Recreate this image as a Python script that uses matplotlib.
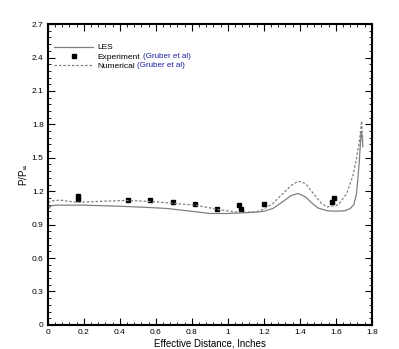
import numpy as np
import matplotlib as mpl
mpl.use('Agg')
import matplotlib.pyplot as plt
from matplotlib.ticker import MultipleLocator

mpl.rcParams['font.family'] = ['Liberation Sans', 'DejaVu Sans']
mpl.rcParams['font.size'] = 6

# LES (solid)
les_x = [0.0, 0.02, 0.05, 0.2, 0.4, 0.55, 0.66, 0.8, 0.9, 1.0, 1.14, 1.2, 1.25, 1.3, 1.35, 1.39,
         1.43, 1.47, 1.5, 1.55, 1.6, 1.65, 1.68, 1.70, 1.715, 1.73, 1.74, 1.745, 1.75]
les_y = [1.04, 1.07, 1.075, 1.075, 1.065, 1.055, 1.045, 1.02, 1.0, 1.0, 1.01, 1.02, 1.045, 1.1, 1.16, 1.18,
         1.15, 1.09, 1.05, 1.025, 1.02, 1.025, 1.045, 1.08, 1.18, 1.46, 1.73, 1.70, 1.60]

# Numerical, Gruber et al (dashed)
num_x = [0.0, 0.03, 0.067, 0.165, 0.3, 0.446, 0.6, 0.7, 0.817, 0.9, 0.97, 1.06, 1.16, 1.2, 1.25, 1.3,
         1.35, 1.39, 1.43, 1.49, 1.52, 1.55, 1.6, 1.62, 1.66, 1.695, 1.715, 1.73, 1.743, 1.75]
num_y = [1.10, 1.115, 1.12, 1.10, 1.11, 1.117, 1.105, 1.09, 1.075, 1.05, 1.03, 1.01, 1.015, 1.04, 1.09, 1.17,
         1.25, 1.29, 1.27, 1.15, 1.09, 1.06, 1.07, 1.09, 1.18, 1.34, 1.5, 1.64, 1.83, 1.65]

# Experiment, Gruber et al
exp_x = [0.165, 0.165, 0.446, 0.57, 0.694, 0.817, 0.937, 1.063, 1.072, 1.198, 1.58, 1.59]
exp_y = [1.16, 1.13, 1.12, 1.117, 1.10, 1.085, 1.043, 1.08, 1.043, 1.085, 1.107, 1.137]

fig = plt.figure(figsize=(3.99, 3.49), dpi=100)
ax = fig.add_axes([0.120, 0.069, 0.812, 0.862])

ax.plot(les_x, les_y, color='#808080', lw=0.9, label='LES')
ax.plot(exp_x, exp_y, 's', color='black', ms=3.5, linestyle='none', label='Experiment')
ax.plot(num_x, num_y, color='#808080', lw=0.9, linestyle=(0, (2, 1.5)), label='Numerical')

ax.set_xlim(0, 1.8)
ax.set_ylim(0, 2.7)
ax.xaxis.set_major_locator(MultipleLocator(0.2))
ax.xaxis.set_minor_locator(MultipleLocator(0.04))
ax.yaxis.set_major_locator(MultipleLocator(0.3))
ax.yaxis.set_minor_locator(MultipleLocator(0.06))
fmt = mpl.ticker.FuncFormatter(lambda v, p: '%g' % round(v, 2))
ax.xaxis.set_major_formatter(fmt)
ax.yaxis.set_major_formatter(fmt)
ax.tick_params(which='both', direction='in', top=True, right=True, labelsize=6, pad=3)
ax.tick_params(which='major', length=5, width=0.8)
ax.tick_params(which='minor', length=2.5, width=0.6)
for s in ax.spines.values():
    s.set_linewidth(1.5)

ax.set_xlabel('Effective Distance, Inches', fontsize=7, labelpad=2)
ax.set_ylabel(r'P/P$_\infty$', fontsize=7, labelpad=2)

leg = ax.legend(loc='upper left', bbox_to_anchor=(0.02, 0.935), frameon=False, fontsize=6,
                handlelength=4.6, handletextpad=0.55, labelspacing=0.15, borderaxespad=0.0,
                borderpad=0.0)
ax.text(0.53, 2.41, '(Gruber et al)', color='#1a1aa0', fontsize=5.8, va='center')
ax.text(0.495, 2.33, '(Gruber et al)', color='#1a1aa0', fontsize=5.8, va='center')

fig.savefig('out.png', dpi=100)
